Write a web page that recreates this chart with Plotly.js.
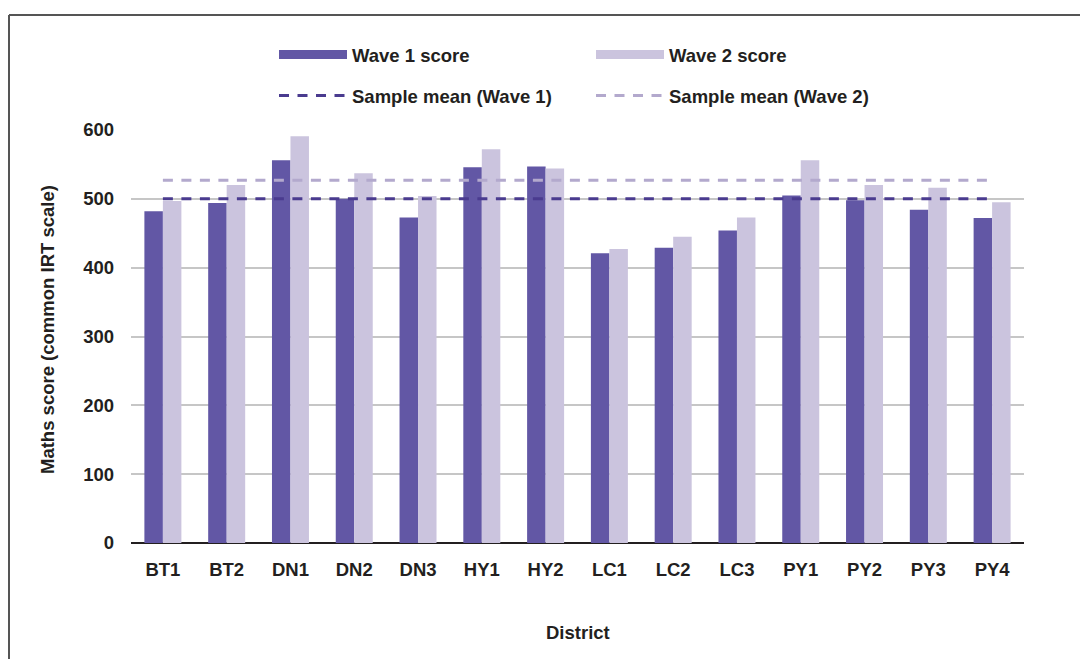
<!DOCTYPE html>
<html>
<head>
<meta charset="utf-8">
<script src="https://cdn.plot.ly/plotly-3.0.1.min.js"></script>
<style>html,body{margin:0;padding:0;background:#fff;}#chart{width:1080px;height:659px;}</style>
</head>
<body>
<div id="chart"></div>
<script>
const districts = ["BT1","BT2","DN1","DN2","DN3","HY1","HY2","LC1","LC2","LC3","PY1","PY2","PY3","PY4"];
const wave1Scores = [482, 494, 556, 500, 473, 546, 547, 421, 429, 454, 505, 498, 484, 472];
const wave2Scores = [497, 520, 591, 537, 504, 572, 544, 427, 445, 473, 556, 520, 516, 495];
const sampleMeanWave1 = 500;
const sampleMeanWave2 = 527;
const yTicks = [0, 100, 200, 300, 400, 500, 600];
const xTitle = "District";
const yTitle = "Maths score (common IRT scale)";

const FONT = "Liberation Sans, Arial, sans-serif";
const TXT = "#231f20";
const C1 = "#6257a5", C2 = "#cbc4de", M1 = "#4a3b8f", M2 = "#b3a9cd";

const W = 1080, H = 659;
const mL = 131, mR = 56, mT = 130, mB = 116;
const pw = W - mL - mR, ph = H - mT - mB;
const px = v => (v - mL) / pw;
const py = v => (H - mB - v) / ph;

const first = districts[0], last = districts[districts.length - 1];
const DASH = "10px,8.5px";

const traces = [
  {type:"bar", x:districts, y:wave1Scores, name:"Wave 1 score", marker:{color:C1}, showlegend:false},
  {type:"bar", x:districts, y:wave2Scores, name:"Wave 2 score", marker:{color:C2}, showlegend:false},
  {type:"scatter", mode:"lines", x:[first], y:[null], name:"Wave 1 score", line:{color:C1, width:9}, legend:"legend", legendgroup:"a1"},
  {type:"scatter", mode:"lines", x:[first], y:[null], name:"Wave 2 score", line:{color:C2, width:9}, legend:"legend2", legendgroup:"a2"},
  {type:"scatter", mode:"lines", x:[first, last], y:[sampleMeanWave2, sampleMeanWave2], name:"Sample mean (Wave 2)",
   line:{color:M2, width:3, dash:DASH}, legend:"legend2", legendgroup:"b2"},
  {type:"scatter", mode:"lines", x:[first, last], y:[sampleMeanWave1, sampleMeanWave1], name:"Sample mean (Wave 1)",
   line:{color:M1, width:3, dash:DASH}, legend:"legend", legendgroup:"b1"}
];

const legendCommon = {
  orientation:"v", traceorder:"grouped", tracegroupgap:14, itemwidth:68,
  font:{family:FONT, size:18.5, color:TXT, weight:700},
  bgcolor:"rgba(0,0,0,0)", borderwidth:0, xref:"container", yref:"container",
  xanchor:"left", yanchor:"top"
};

const titleFont = {family:FONT, size:18.5, color:TXT, weight:700};

const layout = {
  width:W, height:H,
  margin:{l:mL, r:mR, t:mT, b:mB, autoexpand:false},
  paper_bgcolor:"#fff", plot_bgcolor:"#fff",
  font:{family:FONT, size:18.5, color:TXT, weight:700},
  barmode:"group", bargap:0.42, bargroupgap:0,
  showlegend:true,
  legend:Object.assign({}, legendCommon, {x:274/W, y:1 - 36/H}),
  legend2:Object.assign({}, legendCommon, {x:591/W, y:1 - 36/H}),
  xaxis:{
    type:"category", categoryarray:districts, automargin:false,
    showgrid:false, zeroline:false,
    showline:false, ticks:"", ticklabelstandoff:13,
    tickfont:{family:FONT, size:18.5, color:TXT, weight:700}
  },
  yaxis:{
    range:[0, 600], tickvals:yTicks, ticktext:yTicks.map(String), automargin:false,
    showgrid:true, gridcolor:"#c6c6c6", gridwidth:2,
    zeroline:true, zerolinecolor:"#231f20", zerolinewidth:2,
    showline:false, ticks:"", ticklabelstandoff:16,
    tickfont:{family:FONT, size:18.5, color:TXT, weight:700}
  },
  annotations:[
    {text:xTitle, xref:"paper", yref:"paper", x:0.5, y:py(632), xanchor:"center", yanchor:"middle", showarrow:false, font:titleFont},
    {text:yTitle, xref:"paper", yref:"paper", x:px(47), y:py(330), xanchor:"center", yanchor:"middle", textangle:-90, showarrow:false, font:titleFont}
  ],
  shapes:[
    {type:"line", xref:"paper", yref:"paper", x0:px(9), x1:px(1082), y0:py(15), y1:py(15), line:{color:"#555", width:2}},
    {type:"line", xref:"paper", yref:"paper", x0:px(9), x1:px(9), y0:py(15), y1:py(662), line:{color:"#555", width:2}}
  ]
};

Plotly.newPlot("chart", traces, layout, {displayModeBar:false, staticPlot:true});
</script>
</body>
</html>
